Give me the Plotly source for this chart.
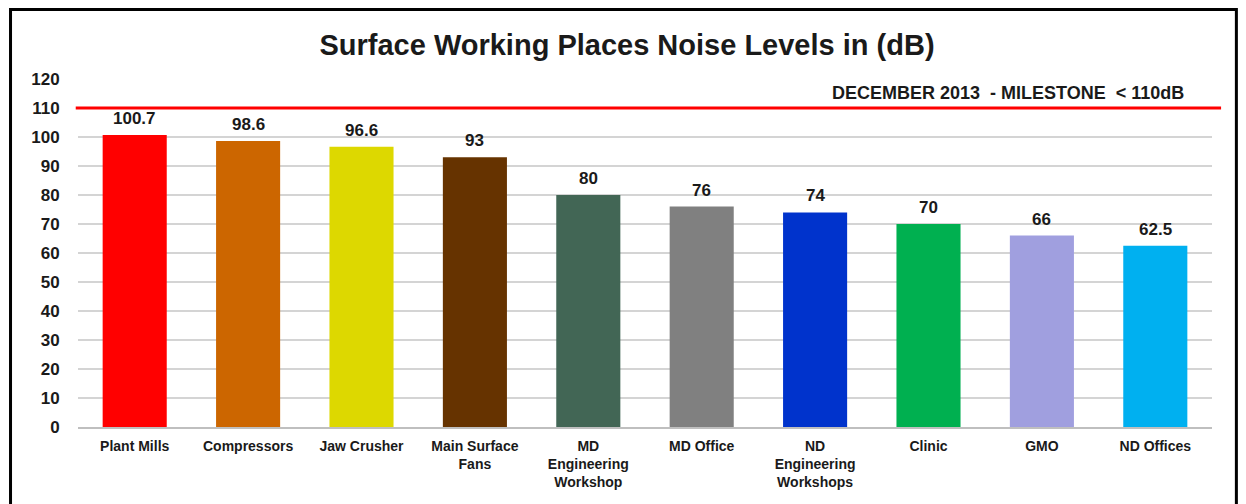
import plotly.graph_objects as go

categories = ["Plant Mills", "Compressors", "Jaw Crusher", "Main Surface<br>Fans",
              "MD<br>Engineering<br>Workshop", "MD Office", "ND<br>Engineering<br>Workshops",
              "Clinic", "GMO", "ND Offices"]
values = [100.7, 98.6, 96.6, 93, 80, 76, 74, 70, 66, 62.5]
labels = ["100.7", "98.6", "96.6", "93", "80", "76", "74", "70", "66", "62.5"]
colours = ["#FF0000", "#CC6600", "#DDD800", "#663300", "#426655",
           "#808080", "#0033CC", "#00B050", "#A09FDF", "#00B0F0"]
milestone = 110

FONT = "Arial, Liberation Sans, sans-serif"
NB = "\u00a0"

fig = go.Figure(go.Bar(
    x=categories,
    y=values,
    marker=dict(color=colours, line=dict(width=0)),
    width=0.565,
    hoverinfo="x+y",
))

# value labels above each bar
for cat, val, lab in zip(categories, values, labels):
    fig.add_annotation(x=cat, y=val, text=f"<b>{lab}</b>", showarrow=False,
                       yanchor="bottom", yshift=5,
                       font=dict(family=FONT, size=17, color="#1a1a1a"))

# milestone line
fig.add_shape(type="line", xref="paper", yref="y", x0=-0.002, x1=1.008,
              y0=milestone, y1=milestone, line=dict(color="#FF0000", width=3))
fig.add_annotation(xref="paper", yref="y", x=0.977, y=milestone, xanchor="right",
                   yanchor="bottom", yshift=3, showarrow=False,
                   text=f"<b>DECEMBER 2013{NB}{NB}- MILESTONE{NB}{NB}< 110dB</b>",
                   font=dict(family=FONT, size=18, color="#1a1a1a"))

# chart frame
fig.add_shape(type="rect", xref="paper", yref="paper", x0=-0.0595, x1=1.0215,
              y0=-0.23, y1=1.1995, line=dict(color="black", width=3), layer="above")

fig.update_layout(
    width=1238,
    height=496,
    margin=dict(l=70, r=34, t=71, b=77),
    paper_bgcolor="white",
    plot_bgcolor="white",
    showlegend=False,
    title=dict(text="<b>Surface Working Places Noise Levels in (dB)</b>",
               x=0.5, xanchor="center", y=0.925, yanchor="middle",
               font=dict(family=FONT, size=29, color="#1a1a1a")),
    font=dict(family=FONT, color="#1a1a1a"),
    xaxis=dict(
        tickfont=dict(family=FONT, size=14, color="#1a1a1a"),
        tickprefix="<b>", ticksuffix="</b>",
        showline=True, linecolor="#BFBFBF", linewidth=1.5,
        ticks="outside", ticklen=5, tickcolor="rgba(0,0,0,0)",
        tickangle=0,
    ),
    yaxis=dict(
        range=[0, 120],
        dtick=10,
        tickfont=dict(family=FONT, size=17, color="#1a1a1a"),
        tickprefix="<b>", ticksuffix="</b>",
        showgrid=True, gridcolor="#D4D4D4", gridwidth=1.5,
        zeroline=False, showline=False,
        ticks="outside", ticklen=14, tickcolor="rgba(0,0,0,0)",
    ),
)

fig.write_html("out.html")
